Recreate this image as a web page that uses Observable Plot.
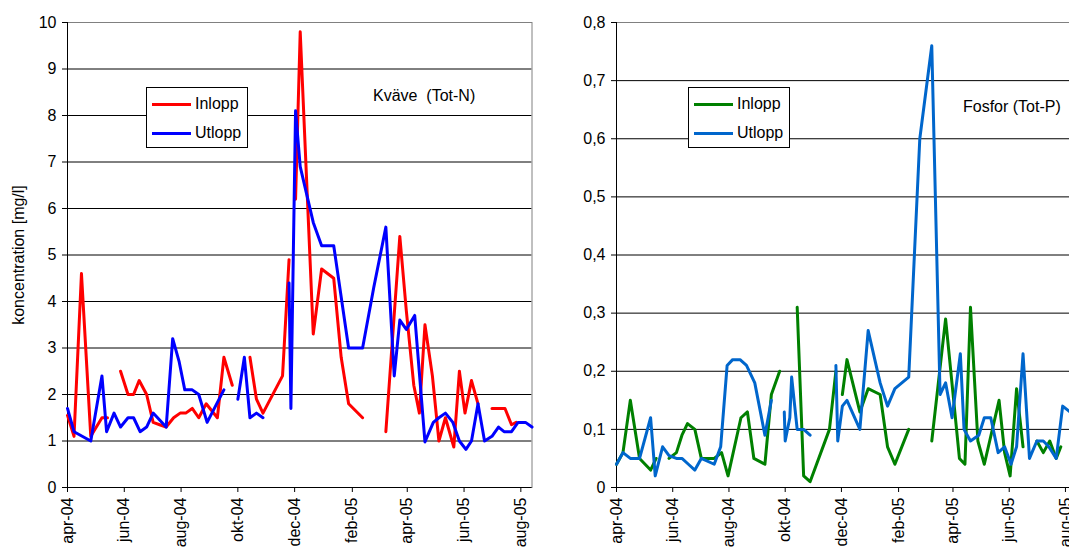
<!DOCTYPE html>
<html>
<head>
<meta charset="utf-8">
<script src="https://cdn.jsdelivr.net/npm/d3@7"></script>
<script src="https://cdn.jsdelivr.net/npm/@observablehq/plot@0.6"></script>
<style>
html, body { margin: 0; padding: 0; background: #fff; overflow: hidden; }
#wrap { position: relative; width: 1069px; height: 552px; overflow: hidden; font-family: "Liberation Sans", Arial, sans-serif; color: #000; }
.panel { position: absolute; top: 0; }
.legend { position: absolute; border: 1px solid #000; background: #fff; box-sizing: border-box; }
.legend .sw { position: absolute; left: 5px; width: 39px; height: 3px; }
.legend .lb { position: absolute; left: 48px; font-size: 16px; line-height: 18px; white-space: nowrap; }
.note { position: absolute; font-size: 16px; line-height: 18px; white-space: pre; }
</style>
</head>
<body>
<div id="wrap"></div>
<script>
// ---------- axis ticks ----------
const tickDates = ["2004-04-01","2004-06-01","2004-08-01","2004-10-01","2004-12-01","2005-02-01","2005-04-01","2005-06-01","2005-08-01"];
const tickLabels = ["apr-04","jun-04","aug-04","okt-04","dec-04","feb-05","apr-05","jun-05","aug-05"];
const xDomainDates = ["2004-04-01", "2005-08-13"];
const nYTicks = [0,1,2,3,4,5,6,7,8,9,10];
const pYTicks = [0,0.1,0.2,0.3,0.4,0.5,0.6,0.7,0.8];

// ---------- Kväve (Tot-N), mg/l ----------
const inN_dates = ["2004-04-01","2004-04-08","2004-04-16","2004-04-26","2004-05-08","2004-05-14","2004-05-21","2004-05-28","2004-06-05","2004-06-11","2004-06-17","2004-06-25","2004-07-02","2004-07-09","2004-07-16","2004-07-24","2004-07-31","2004-08-06","2004-08-13","2004-08-20","2004-08-28","2004-09-09","2004-09-16","2004-09-25","2004-10-01","2004-10-14","2004-10-21","2004-10-28","2004-11-18","2004-11-25","2004-11-27","2004-12-02","2004-12-07","2004-12-21","2004-12-30","2005-01-12","2005-01-20","2005-01-28","2005-02-12","2005-02-24","2005-03-09","2005-03-24","2005-03-31","2005-04-08","2005-04-14","2005-04-20","2005-04-28","2005-05-05","2005-05-12","2005-05-21","2005-05-27","2005-06-02","2005-06-09","2005-06-16","2005-06-23","2005-07-01","2005-07-08","2005-07-15","2005-07-22","2005-07-27"];
const inN_values = [1.55,1.1,4.6,1.1,1.5,1.5,null,2.5,2.0,2.0,2.3,2.0,1.4,1.35,1.3,1.5,1.6,1.6,1.7,1.5,1.8,1.5,2.8,2.2,null,2.8,1.9,1.6,2.4,4.9,null,6.2,9.8,3.3,4.7,4.5,2.8,1.8,1.5,null,1.2,5.4,3.8,2.2,1.6,3.5,2.4,1.0,1.5,0.87,2.5,1.6,2.3,1.8,null,1.7,1.7,1.7,1.35,1.4];

const outN_dates = ["2004-04-01","2004-04-08","2004-04-26","2004-05-08","2004-05-13","2004-05-21","2004-05-28","2004-06-05","2004-06-11","2004-06-18","2004-06-25","2004-07-02","2004-07-16","2004-07-23","2004-07-30","2004-08-05","2004-08-13","2004-08-20","2004-08-29","2004-09-07","2004-09-16","2004-09-25","2004-10-01","2004-10-08","2004-10-14","2004-10-21","2004-10-28","2004-11-18","2004-11-25","2004-11-27","2004-12-02","2004-12-07","2004-12-21","2004-12-30","2005-01-12","2005-01-28","2005-02-12","2005-02-24","2005-03-09","2005-03-18","2005-03-24","2005-03-31","2005-04-09","2005-04-20","2005-04-29","2005-05-05","2005-05-12","2005-05-20","2005-05-27","2005-06-03","2005-06-09","2005-06-16","2005-06-23","2005-07-01","2005-07-08","2005-07-14","2005-07-22","2005-07-29","2005-08-06","2005-08-13"];
const outN_values = [1.7,1.2,1.0,2.4,1.2,1.6,1.3,1.5,1.5,1.2,1.3,1.6,1.3,3.2,2.7,2.1,2.1,2.0,1.4,1.75,2.1,null,1.9,2.8,1.5,1.6,1.5,null,4.4,1.7,8.1,6.9,5.7,5.2,5.2,3.0,3.0,4.3,5.6,2.4,3.6,3.4,3.7,0.98,1.4,1.5,1.6,1.4,1.0,0.82,1.0,1.8,1.0,1.1,1.3,1.2,1.2,1.4,1.4,1.3];

// ---------- Fosfor (Tot-P), mg/l ----------
const inP_dates = ["2004-04-01","2004-04-08","2004-04-16","2004-04-26","2004-05-08","2004-05-14","2004-05-21","2004-05-28","2004-06-05","2004-06-11","2004-06-17","2004-06-25","2004-07-02","2004-07-09","2004-07-16","2004-07-24","2004-07-31","2004-08-14","2004-08-21","2004-08-28","2004-09-09","2004-09-16","2004-09-25","2004-10-01","2004-10-14","2004-10-21","2004-10-28","2004-11-18","2004-11-25","2004-11-27","2004-12-02","2004-12-07","2004-12-21","2004-12-30","2005-01-12","2005-01-20","2005-01-28","2005-02-12","2005-02-24","2005-03-09","2005-03-24","2005-04-08","2005-04-14","2005-04-20","2005-04-28","2005-05-05","2005-05-21","2005-05-27","2005-06-02","2005-06-09","2005-06-16","2005-06-23","2005-07-01","2005-07-08","2005-07-15","2005-07-22","2005-07-27"];
const inP_values = [0.04,0.06,0.15,0.05,0.03,0.05,null,0.05,0.06,0.09,0.11,0.10,0.05,0.05,0.05,0.06,0.02,0.12,0.13,0.05,0.04,0.16,0.20,null,0.31,0.02,0.01,0.10,0.20,null,0.16,0.22,0.13,0.17,0.16,0.07,0.04,0.10,null,0.08,0.29,0.05,0.04,0.31,0.08,0.04,0.15,0.06,0.02,0.17,0.07,null,0.08,0.06,0.08,0.05,0.07];

const outP_dates = ["2004-04-01","2004-04-08","2004-04-16","2004-04-26","2004-05-08","2004-05-13","2004-05-21","2004-05-28","2004-06-05","2004-06-11","2004-06-18","2004-06-25","2004-07-02","2004-07-16","2004-07-23","2004-07-30","2004-08-05","2004-08-13","2004-08-20","2004-08-29","2004-09-09","2004-09-16","2004-09-25","2004-09-30","2004-10-01","2004-10-06","2004-10-08","2004-10-14","2004-10-21","2004-10-28","2004-11-18","2004-11-25","2004-11-27","2004-12-02","2004-12-07","2004-12-21","2004-12-30","2005-01-12","2005-01-20","2005-01-28","2005-02-12","2005-02-24","2005-03-09","2005-03-18","2005-03-24","2005-03-31","2005-04-09","2005-04-13","2005-04-20","2005-04-29","2005-05-05","2005-05-12","2005-05-20","2005-05-27","2005-06-03","2005-06-09","2005-06-16","2005-06-23","2005-07-01","2005-07-08","2005-07-14","2005-07-22","2005-07-29","2005-08-06","2005-08-13"];
const outP_values = [0.04,0.06,0.05,0.05,0.12,0.02,0.07,0.055,0.05,0.05,0.04,0.03,0.05,0.04,0.07,0.21,0.22,0.22,0.21,0.18,0.09,0.15,null,0.13,0.08,0.12,0.19,0.10,0.10,0.09,null,0.21,0.08,0.14,0.15,0.10,0.27,0.18,0.14,0.17,0.19,0.60,0.76,0.16,0.18,0.12,0.23,0.10,0.08,0.09,0.12,0.12,0.06,0.07,0.04,0.07,0.23,0.05,0.08,0.08,0.07,0.05,0.14,0.13,0.12];

// ---------- helpers ----------
const FONT = "'Liberation Sans', Arial, sans-serif";
const parse = s => new Date(s + "T00:00:00Z");
const xDomain = xDomainDates.map(parse);
const tickDateObjs = tickDates.map(parse);
const labelByTime = new Map(tickDateObjs.map((d, i) => [+d, tickLabels[i]]));
const rows = (dates, vals) => dates.map((d, i) => ({date: parse(d), v: vals[i] == null ? NaN : vals[i]}));

function panel({yDomain, yTicks, yFormat, series, width, marginLeft, marginRight, yTitle}) {
  const marks = [
    Plot.gridY({ticks: yTicks, stroke: "#000", strokeOpacity: 1}),
    Plot.frame({stroke: "#808080"}),
    Plot.ruleX([xDomain[0]], {stroke: "#000"}),
    Plot.ruleY([yDomain[0]], {stroke: "#000"}),
    Plot.axisY({ticks: yTicks, tickSize: 5, tickPadding: 6, tickFormat: yFormat, label: null}),
    Plot.axisX({ticks: tickDateObjs, tickSize: 5, tickPadding: 5, tickRotate: -90, tickFormat: d => labelByTime.get(+d), label: null}),
    ...series.map(s => Plot.line(rows(s.dates, s.values), {x: "date", y: "v", stroke: s.color, strokeWidth: 3, strokeLinejoin: "round"}))
  ];
  if (yTitle) marks.push(Plot.text([yTitle], {text: d => d, frameAnchor: "left", rotate: -90, dx: -49, textAnchor: "middle", fontSize: 16}));
  return Plot.plot({
    width, height: 552,
    marginLeft, marginRight, marginTop: 22, marginBottom: 65,
    x: {type: "utc", domain: xDomain, label: null},
    y: {domain: yDomain, label: null},
    style: {fontFamily: FONT, fontSize: "16px", color: "#000", background: "transparent", overflow: "visible"},
    marks
  });
}

const nSeries = [
  {name: "Inlopp", color: "#ff0000", dates: inN_dates, values: inN_values},
  {name: "Utlopp", color: "#0000ff", dates: outN_dates, values: outN_values}
];
const pSeries = [
  {name: "Inlopp", color: "#008000", dates: inP_dates, values: inP_values},
  {name: "Utlopp", color: "#0066cc", dates: outP_dates, values: outP_values}
];

const wrap = document.getElementById("wrap");

const left = panel({yDomain: [0, 10], yTicks: nYTicks, yFormat: d => String(d), series: nSeries,
  width: 548, marginLeft: 67, marginRight: 16.5, yTitle: "koncentration [mg/l]"});
left.classList.add("panel"); left.style.left = "0px";
wrap.appendChild(left);

const right = panel({yDomain: [0, 0.8], yTicks: pYTicks, yFormat: d => d === 0 ? "0" : d.toFixed(1).replace(".", ","), series: pSeries,
  width: 548, marginLeft: 68, marginRight: 20});
right.classList.add("panel"); right.style.left = "548px";
wrap.appendChild(right);

function legend(series, left, top) {
  const box = document.createElement("div");
  box.className = "legend";
  Object.assign(box.style, {left: left + "px", top: top + "px", width: "102px", height: "61px"});
  series.forEach((s, i) => {
    const cy = 16 + i * 29;
    const sw = document.createElement("div");
    sw.className = "sw"; sw.style.top = (cy - 1.5) + "px"; sw.style.background = s.color;
    const lb = document.createElement("div");
    lb.className = "lb"; lb.style.top = (cy - 9) + "px"; lb.textContent = s.name;
    box.appendChild(sw); box.appendChild(lb);
  });
  wrap.appendChild(box);
}
legend(nSeries, 146, 87);
legend(pSeries, 688, 87);

function note(text, left, top) {
  const n = document.createElement("div");
  n.className = "note"; n.textContent = text;
  n.style.left = left + "px"; n.style.top = top + "px";
  wrap.appendChild(n);
}
note("Kväve  (Tot-N)", 373, 87);
note("Fosfor (Tot-P)", 963, 98);
</script>
</body>
</html>
